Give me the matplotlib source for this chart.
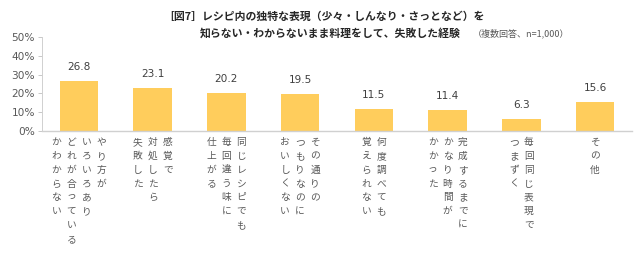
import matplotlib
matplotlib.use("Agg")
import matplotlib.pyplot as plt

plt.rcParams['font.family'] = ['Noto Sans CJK JP', 'DejaVu Sans']

categories = [
    ["やり方が", "いろいろあり", "どれが合っている", "かわからない"],
    ["感覚で", "対処したら", "失敗した"],
    ["同じレシピでも", "毎回違う味に", "仕上がる"],
    ["その通りの", "つもりなのに", "おいしくない"],
    ["何度調べても", "覚えられない"],
    ["完成するまでに", "かなり時間が", "かかった"],
    ["毎回同じ表現で", "つまずく"],
    ["その他"],
]
values = [26.8, 23.1, 20.2, 19.5, 11.5, 11.4, 6.3, 15.6]
value_labels = ["26.8", "23.1", "20.2", "19.5", "11.5", "11.4", "6.3", "15.6"]
yticks = [0, 10, 20, 30, 40, 50]
ytick_labels = ["0%", "10%", "20%", "30%", "40%", "50%"]
title_line1 = "［図7］レシピ内の独特な表現（少々・しんなり・さっとなど）を"
title_line2 = "知らない・わからないまま料理をして、失敗した経験"
note = "（複数回答、n=1,000）"

W, H = 640, 259
fig = plt.figure(figsize=(6.4, 2.59), dpi=100)
fig.patch.set_facecolor("white")
ax = fig.add_axes([42 / W, (H - 131) / H, 590 / W, 94 / H])

x = list(range(len(values)))
ax.bar(x, values, width=0.52, color="#FFCD5C", zorder=2)
ax.set_xlim(-0.5, len(values) - 0.5)
ax.set_ylim(0, 50)
ax.set_yticks(yticks)
ax.set_yticklabels(ytick_labels, family=["DejaVu Sans"], fontsize=7.6, color="#595959")
ax.set_xticks([])
ax.tick_params(axis="y", length=3, width=0.6, color="#BFBFBF", pad=2)
for s in ["top", "right"]:
    ax.spines[s].set_visible(False)
ax.spines["left"].set_color("#D0D0D0")
ax.spines["left"].set_linewidth(0.7)
ax.spines["bottom"].set_color("#D0D0D0")
ax.spines["bottom"].set_linewidth(1.0)

for i, (v, lab) in enumerate(zip(values, value_labels)):
    ax.annotate(lab, xy=(i, v), xytext=(0, 9), textcoords="offset pixels",
                ha="center", va="bottom", fontsize=7.6, family=["DejaVu Sans"],
                color="#404040")

spacing = 15
for i, cols in enumerate(categories):
    n = len(cols)
    for k, col in enumerate(cols):
        off = ((n - 1) / 2 - k) * spacing
        ax.annotate("\n".join(col), xy=(i, 0), xycoords=("data", "axes fraction"),
                    xytext=(off, -6), textcoords="offset pixels",
                    ha="center", va="top", fontsize=7, color="#595959",
                    linespacing=1.48)

fig.text(163 / W, 1 - 17 / H, title_line1, ha="left", va="center",
         fontsize=7.8, fontweight="bold", color="#262626")
fig.text(200 / W, 1 - 33 / H, title_line2, ha="left", va="center",
         fontsize=7.8, fontweight="bold", color="#262626")
fig.text(473 / W, 1 - 33 / H, note, ha="left", va="center",
         fontsize=6.5, color="#595959")

fig.savefig("out.png", dpi=100)
